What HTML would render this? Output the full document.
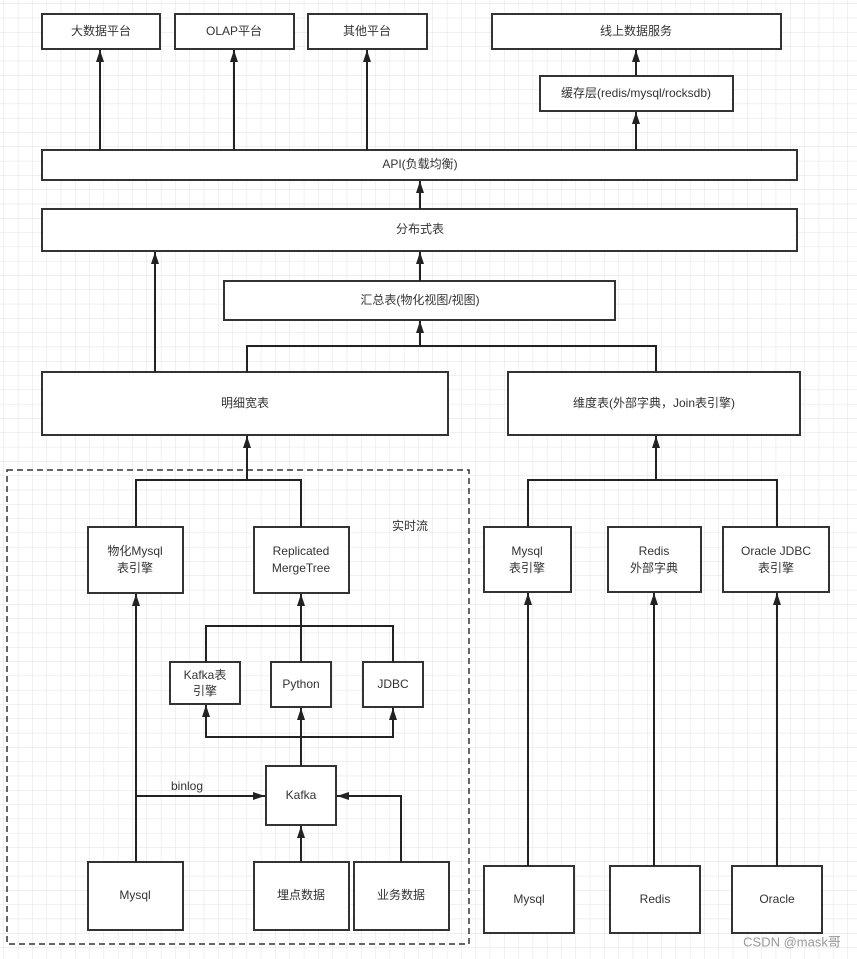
<!DOCTYPE html>
<html><head><meta charset="utf-8"><style>
html,body{margin:0;padding:0;background:#fff}
svg{display:block}
text{font-family:"Liberation Sans","Noto Sans CJK SC",sans-serif;font-size:12px;fill:#333;text-anchor:middle;dominant-baseline:middle}
</style></head><body>
<svg width="857" height="959" viewBox="0 0 857 959" xmlns="http://www.w3.org/2000/svg">
<defs>
<pattern id="g" width="14.3" height="14.3" patternUnits="userSpaceOnUse" x="4" y="4">
<path d="M14.3 0V14.3M0 14.3H14.3" fill="none" stroke="#e2e2e2" stroke-width="1"/>
</pattern>
<marker id="a" viewBox="0 0 12 8" refX="12" refY="4" markerWidth="6" markerHeight="4" orient="auto"><path d="M0 0L12 4L0 8z" fill="#222"/></marker>
</defs>
<rect width="857" height="959" fill="url(#g)"/>
<g fill="#fff" stroke="#333" stroke-width="2">
<rect x="42" y="14" width="118" height="35"/>
<rect x="175" y="14" width="119" height="35"/>
<rect x="308" y="14" width="119" height="35"/>
<rect x="492" y="14" width="289" height="35"/>
<rect x="540" y="76" width="193" height="35"/>
<rect x="42" y="150" width="755" height="30"/>
<rect x="42" y="209" width="755" height="42"/>
<rect x="224" y="281" width="391" height="39"/>
<rect x="42" y="372" width="406" height="63"/>
<rect x="508" y="372" width="292" height="63"/>
<rect x="88" y="527" width="95" height="66"/>
<rect x="254" y="527" width="95" height="66"/>
<rect x="170" y="662" width="70" height="42"/>
<rect x="271" y="662" width="60" height="45"/>
<rect x="363" y="662" width="60" height="45"/>
<rect x="266" y="766" width="70" height="59"/>
<rect x="88" y="862" width="95" height="68"/>
<rect x="254" y="862" width="95" height="68"/>
<rect x="354" y="862" width="95" height="68"/>
<rect x="484" y="527" width="87" height="65"/>
<rect x="608" y="527" width="93" height="65"/>
<rect x="723" y="527" width="106" height="65"/>
<rect x="484" y="866" width="90" height="67"/>
<rect x="610" y="866" width="90" height="67"/>
<rect x="732" y="866" width="90" height="67"/>
</g>
<rect x="7" y="470" width="462" height="474" fill="none" stroke="#333" stroke-width="1.5" stroke-dasharray="6,4"/>
<g fill="none" stroke="#222" stroke-width="2">
<path d="M100 150V50" marker-end="url(#a)"/>
<path d="M234 150V50" marker-end="url(#a)"/>
<path d="M367 150V50" marker-end="url(#a)"/>
<path d="M636 150V112" marker-end="url(#a)"/>
<path d="M636 76V50" marker-end="url(#a)"/>
<path d="M420 209V181" marker-end="url(#a)"/>
<path d="M155 372V252" marker-end="url(#a)"/>
<path d="M420 281V252" marker-end="url(#a)"/>
<path d="M420 346V321" marker-end="url(#a)"/>
<path d="M247 372V346H656V372"/>
<path d="M247 480V436" marker-end="url(#a)"/>
<path d="M136 527V480H301V527"/>
<path d="M656 480V436" marker-end="url(#a)"/>
<path d="M528 527V480H777V527"/>
<path d="M136 862V594" marker-end="url(#a)"/>
<path d="M136 796H265" marker-end="url(#a)"/>
<path d="M301 662V594" marker-end="url(#a)"/>
<path d="M206 662V626H393V662"/>
<path d="M301 766V708" marker-end="url(#a)"/>
<path d="M301 737H206V705" marker-end="url(#a)"/>
<path d="M301 737H393V708" marker-end="url(#a)"/>
<path d="M301 862V826" marker-end="url(#a)"/>
<path d="M401 862V796H337" marker-end="url(#a)"/>
<path d="M528 866V593" marker-end="url(#a)"/>
<path d="M654 866V593" marker-end="url(#a)"/>
<path d="M777 866V593" marker-end="url(#a)"/>
</g>
<text x="101" y="32">大数据平台</text>
<text x="234" y="32">OLAP平台</text>
<text x="367" y="32">其他平台</text>
<text x="636" y="32">线上数据服务</text>
<text x="636" y="94">缓存层(redis/mysql/rocksdb)</text>
<text x="420" y="165">API(负载均衡)</text>
<text x="420" y="230">分布式表</text>
<text x="420" y="301">汇总表(物化视图/视图)</text>
<text x="245" y="404">明细宽表</text>
<text x="654" y="404">维度表(外部字典，Join表引擎)</text>
<text x="410" y="527">实时流</text>
<text x="135" y="552">物化Mysql</text><text x="135" y="569">表引擎</text>
<text x="301" y="552">Replicated</text><text x="301" y="569">MergeTree</text>
<text x="205" y="676">Kafka表</text><text x="205" y="692">引擎</text>
<text x="301" y="685">Python</text>
<text x="393" y="685">JDBC</text>
<text x="187" y="787">binlog</text>
<text x="301" y="796">Kafka</text>
<text x="135" y="896">Mysql</text>
<text x="301" y="896">埋点数据</text>
<text x="401" y="896">业务数据</text>
<text x="527" y="552">Mysql</text><text x="527" y="569">表引擎</text>
<text x="654" y="552">Redis</text><text x="654" y="569">外部字典</text>
<text x="776" y="552">Oracle JDBC</text><text x="776" y="569">表引擎</text>
<text x="529" y="900">Mysql</text>
<text x="655" y="900">Redis</text>
<text x="777" y="900">Oracle</text>
<text x="792" y="943" style="font-size:13px;fill:#999">CSDN @mask哥</text>
</svg>
</body></html>
